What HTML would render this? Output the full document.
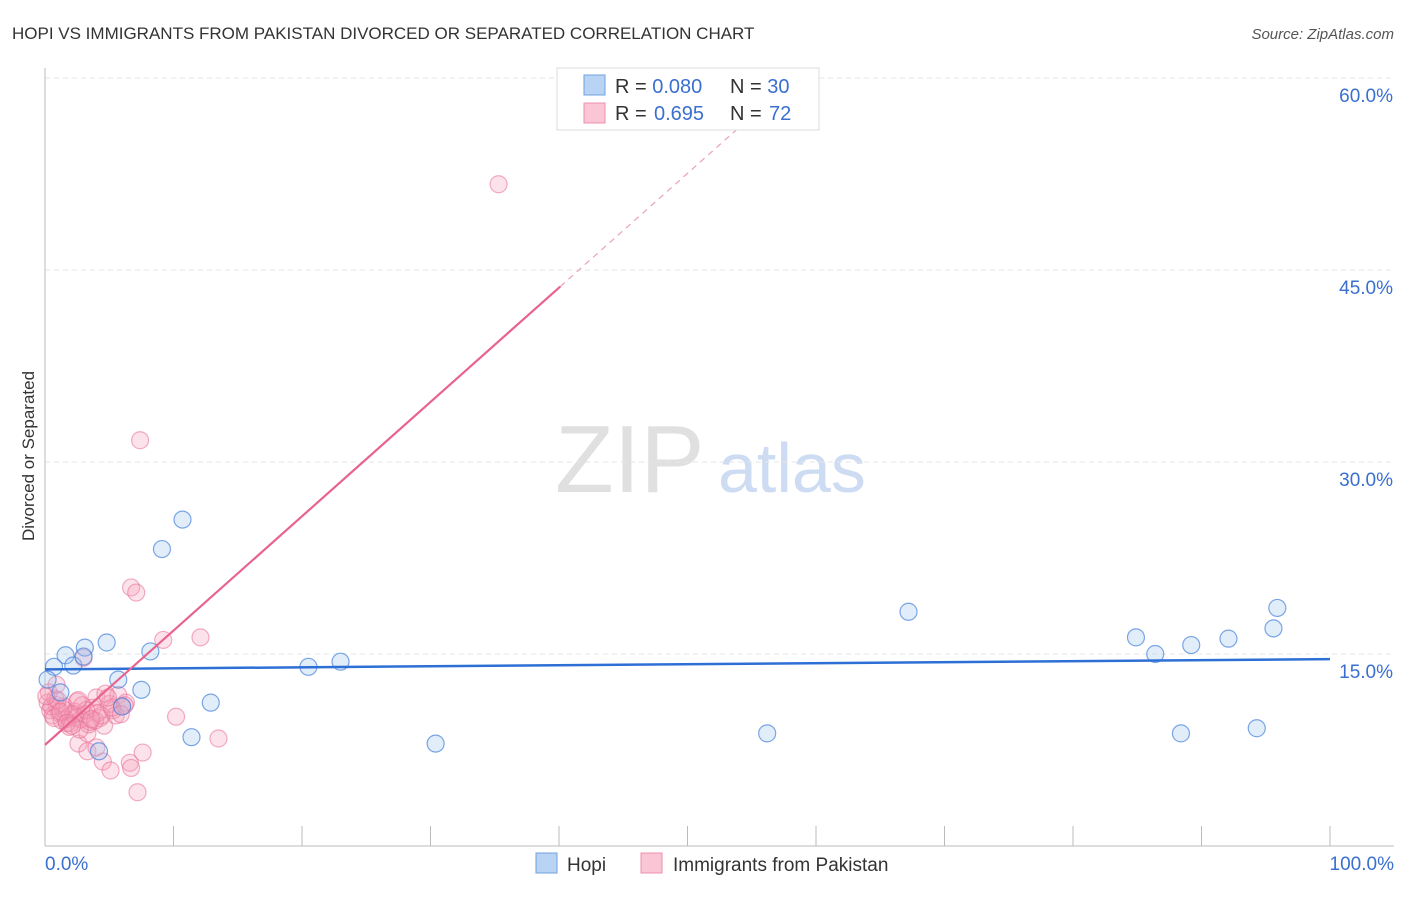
<!DOCTYPE html>
<html><head><meta charset="utf-8">
<style>
body{margin:0;background:#fff;font-family:"Liberation Sans",sans-serif;}
svg text{font-family:"Liberation Sans",sans-serif;}
</style></head>
<body>
<svg id="chart" width="1406" height="892">
<text x="12" y="39" font-size="17" fill="#333">HOPI VS IMMIGRANTS FROM PAKISTAN DIVORCED OR SEPARATED CORRELATION CHART</text>
<text x="1394" y="39" font-size="15" fill="#555" font-style="italic" text-anchor="end">Source: ZipAtlas.com</text>
<text x="34" y="456" font-size="17" fill="#333" text-anchor="middle" transform="rotate(-90 34 456)">Divorced or Separated</text>
<text x="555" y="492" font-size="96" fill="#e0e0e0" font-family="Liberation Serif">ZIP</text>
<text x="718" y="492" font-size="70" fill="#cddcf2">atlas</text>
<g id="grid"></g><g id="axes"></g><g id="pts"></g><g id="lines"></g>
<g>
<rect x="557" y="68" width="262" height="62" fill="#fff" stroke="#ddd"/>
<rect x="584" y="75" width="21" height="20" fill="#b9d3f5" stroke="#6fa0e0"/>
<rect x="584" y="103" width="21" height="20" fill="#fac6d5" stroke="#ee8fab"/>
<text x="615" y="93" font-size="20" fill="#333">R = <tspan fill="#3a6fd0">0.080</tspan><tspan x="730">N = </tspan><tspan fill="#3a6fd0">30</tspan></text>
<text x="615" y="120" font-size="20" fill="#333">R = <tspan fill="#3a6fd0" x="654">0.695</tspan><tspan x="730">N = </tspan><tspan fill="#3a6fd0" x="769">72</tspan></text>
</g>
<g>
<rect x="536" y="853" width="21" height="20" fill="#b9d3f5" stroke="#6fa0e0"/>
<text x="567" y="871" font-size="19" fill="#333">Hopi</text>
<rect x="641" y="853" width="21" height="20" fill="#fac6d5" stroke="#ee8fab"/>
<text x="673" y="871" font-size="19" fill="#333">Immigrants from Pakistan</text>
</g>
</svg>
<script>
const yTicks=[15,30,45,60];
const yTickLabels=["15.0%","30.0%","45.0%","60.0%"];
const xEndLabels=["0.0%","100.0%"];
const hopiX=[0.7,1.6,2.2,3.1,3.0,4.8,5.7,6.0,7.5,8.2,9.1,10.7,11.4,12.9,4.2,20.5,23.0,30.4,1.2,0.2,56.2,67.2,84.9,86.4,88.4,89.2,92.1,94.3,95.6,95.9];
const hopiY=[14.0,14.9,14.1,15.5,14.8,15.9,13.0,10.9,12.2,15.2,23.2,25.5,8.5,11.2,7.4,14.0,14.4,8.0,12.0,13.0,8.8,18.3,16.3,15.0,8.8,15.7,16.2,9.2,17.0,18.6];
const pakX=[35.3,7.4,6.7,7.1,9.2,12.1,10.2,13.5,7.2,6.6,7.6,6.7,4.5,5.1,2.6,3.3,4.0,3.3,3.0,
0.2,0.4,0.6,0.9,1.1,1.3,1.5,1.8,2.0,2.3,2.5,2.8,3.1,3.4,3.7,4.0,4.3,4.6,5.0,5.3,5.7,6.0,6.3,0.3,0.8,1.4,1.9,2.4,2.9,3.5,4.1,4.7,5.5,6.2,0.5,1.0,1.6,2.2,2.7,3.2,3.9,4.4,5.2,0.1,0.7,1.2,1.7,2.6,3.6,4.9,5.9,2.1,0.9];
const pakY=[51.7,31.7,20.2,19.8,16.1,16.3,10.1,8.4,4.2,6.5,7.3,6.1,6.6,5.9,8.0,7.4,7.7,8.8,14.7,
11.2,10.6,10.2,11.0,10.4,9.8,10.9,10.1,9.6,10.5,11.3,9.9,10.3,9.5,10.8,11.6,10.0,9.4,11.1,10.6,11.8,10.9,11.2,12.0,11.5,10.7,9.3,10.0,11.0,9.7,10.4,11.9,10.2,11.0,10.9,11.4,9.9,10.3,9.1,10.6,9.8,10.2,10.8,11.7,10.0,10.5,9.6,11.4,9.9,11.6,10.3,9.4,12.6];
const X=v=>45+v*12.85, Y=v=>846-v*12.8;
const NS="http://www.w3.org/2000/svg";
function mk(p,t,a){const e=document.createElementNS(NS,t);for(const k in a)e.setAttribute(k,a[k]);p.appendChild(e);return e;}
const grid=document.getElementById('grid'),axes=document.getElementById('axes'),pts=document.getElementById('pts'),lines=document.getElementById('lines');
yTicks.forEach((t,i)=>{
 const g=mk(grid,'line',{x1:45,x2:1394,y1:Y(t),y2:Y(t),stroke:'#e6e6e6','stroke-dasharray':'5,4'});
 
 
 const tx=mk(axes,'text',{x:1393,y:Y(t)+24,'font-size':19,fill:'#3a6fd0','text-anchor':'end'});
 tx.textContent=yTickLabels[i];
 
 
});
const ya=mk(axes,'line',{x1:45,x2:45,y1:68,y2:846,stroke:'#bbb'});


const xa=mk(axes,'line',{x1:45,x2:1394,y1:846,y2:846,stroke:'#bbb'});


for(let i=1;i<=10;i++){const t=mk(axes,'line',{x1:X(i*10),x2:X(i*10),y1:826,y2:846,stroke:'#bbb'});
 
 }
[[45,'start',0],[1394,'end',1]].forEach(([x,a,i])=>{const t=mk(axes,'text',{x:x,y:870,'font-size':19,fill:'#3a6fd0','text-anchor':a});t.textContent=xEndLabels[i];
 
 });
pakX.forEach((v,i)=>{const c=mk(pts,'circle',{cx:X(v),cy:Y(pakY[i]),r:8.5,fill:'rgba(246,160,185,0.3)',stroke:'rgba(232,110,150,0.55)','stroke-width':1.2});
 
 });
hopiX.forEach((v,i)=>{const c=mk(pts,'circle',{cx:X(v),cy:Y(hopiY[i]),r:8.5,fill:'rgba(160,195,240,0.3)',stroke:'rgba(70,130,220,0.7)','stroke-width':1.2});
 
 });
const bl=mk(lines,'line',{x1:X(0),y1:Y(13.8),x2:X(100),y2:Y(14.6),stroke:'#2e6fd6','stroke-width':2.5});


const pi=7.9,ps=0.893;
const pl=mk(lines,'line',{x1:X(0),y1:Y(pi),x2:X(40.1),y2:Y(pi+ps*40.1),stroke:'#e8648f','stroke-width':2.2});


const pd=mk(lines,'line',{x1:X(40.1),y1:Y(pi+ps*40.1),x2:X(54.5),y2:Y(pi+ps*54.5),stroke:'#eba0b8','stroke-width':1.2,'stroke-dasharray':'6,5'});


</script>
</body></html>
